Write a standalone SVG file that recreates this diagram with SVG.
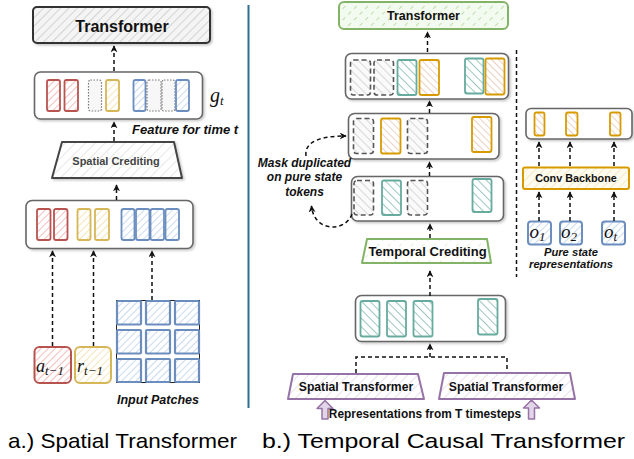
<svg xmlns="http://www.w3.org/2000/svg" width="634" height="459" viewBox="0 0 634 459">
  <defs>
    <style>
      .lbl { font-family: "Liberation Sans", Arial, sans-serif; font-weight: bold; fill: #111; }
      .note { font-family: "Liberation Sans", Arial, sans-serif; font-weight: bold; font-style: italic; fill: #111; }
      .math { font-family: "Liberation Serif", "DejaVu Serif", serif; font-style: italic; fill: #111; }
      .cap { font-family: "Liberation Sans", Arial, sans-serif; fill: #000; }
      .frame { fill: #fff; stroke: #666; stroke-width: 1.6; filter: url(#sh); }
      .conn { fill: none; stroke: #111; stroke-width: 1.5; stroke-dasharray: 4 3; }
      .arw { marker-end: url(#ah); }
      .tr { stroke: #b85450; stroke-width: 1.8; fill: url(#hRed); }
      .ty { stroke: #d6b656; stroke-width: 1.8; fill: url(#hYel); }
      .tb { stroke: #6c8ebf; stroke-width: 1.8; fill: url(#hBlue); }
      .tdot { stroke: #777; stroke-width: 1.2; stroke-dasharray: 1.5 1.5; fill: #f7f7f7; }
      .tteal { stroke: #67ab9f; stroke-width: 1.8; fill: url(#hTeal); }
      .tor { stroke: #d79b00; stroke-width: 1.8; fill: url(#hOr); }
      .tdash { stroke: #555; stroke-width: 1.6; stroke-dasharray: 5 3; fill: url(#hGrayB); }
    </style>
    <filter id="sh" x="-10%" y="-10%" width="125%" height="130%">
      <feDropShadow dx="1.5" dy="1.5" stdDeviation="1.2" flood-color="#000" flood-opacity="0.22"/>
    </filter>
    <marker id="ah" viewBox="0 0 10 10" refX="9" refY="5" markerWidth="7" markerHeight="7" markerUnits="userSpaceOnUse" orient="auto">
      <path d="M0,0 L10,5 L0,10 L3,5 z" fill="#111"/>
    </marker>
    <!-- hachure fills -->
    <pattern id="hGray" width="6" height="6" patternUnits="userSpaceOnUse" patternTransform="rotate(45)">
      <rect width="6" height="6" fill="#f4f4f4"/><line x1="0" y1="0" x2="0" y2="6" stroke="#bdbdbd" stroke-width="1.2"/>
    </pattern>
    <pattern id="hGrayL" width="7" height="7" patternUnits="userSpaceOnUse" patternTransform="rotate(45)">
      <rect width="7" height="7" fill="#fff"/><line x1="0" y1="0" x2="0" y2="7" stroke="#d6d6d6" stroke-width="1.2"/>
    </pattern>
    <pattern id="hGrayB" width="6" height="6" patternUnits="userSpaceOnUse" patternTransform="rotate(-45)">
      <rect width="6" height="6" fill="#fafafa"/><line x1="0" y1="0" x2="0" y2="6" stroke="#c4c4c4" stroke-width="1.3"/>
    </pattern>
    <pattern id="hRed" width="5" height="5" patternUnits="userSpaceOnUse" patternTransform="rotate(45)">
      <rect width="5" height="5" fill="#fff"/><line x1="0" y1="0" x2="0" y2="5" stroke="#eea4a1" stroke-width="1.4"/>
    </pattern>
    <pattern id="hYel" width="5" height="5" patternUnits="userSpaceOnUse" patternTransform="rotate(45)">
      <rect width="5" height="5" fill="#fff"/><line x1="0" y1="0" x2="0" y2="5" stroke="#efdc9c" stroke-width="1.4"/>
    </pattern>
    <pattern id="hBlue" width="5" height="5" patternUnits="userSpaceOnUse" patternTransform="rotate(45)">
      <rect width="5" height="5" fill="#fff"/><line x1="0" y1="0" x2="0" y2="5" stroke="#b3caec" stroke-width="1.4"/>
    </pattern>
    <pattern id="hTeal" width="6" height="6" patternUnits="userSpaceOnUse" patternTransform="rotate(-45)">
      <rect width="6" height="6" fill="#fff"/><line x1="0" y1="0" x2="0" y2="6" stroke="#7ab5aa" stroke-width="1.5"/>
    </pattern>
    <pattern id="hOr" width="5" height="5" patternUnits="userSpaceOnUse" patternTransform="rotate(-45)">
      <rect width="5" height="5" fill="#fff"/><line x1="0" y1="0" x2="0" y2="5" stroke="#e2b9a0" stroke-width="1.3"/>
    </pattern>
    <pattern id="hGreen" width="8" height="8" patternUnits="userSpaceOnUse" patternTransform="rotate(45)">
      <rect width="8" height="8" fill="#f3faef"/><line x1="0" y1="0" x2="0" y2="4" stroke="#a9d18e" stroke-width="1.4"/>
    </pattern>
    <pattern id="hGreenL" width="8" height="8" patternUnits="userSpaceOnUse" patternTransform="rotate(45)">
      <rect width="8" height="8" fill="#fff"/><line x1="0" y1="0" x2="0" y2="4" stroke="#cfe6c1" stroke-width="1.2"/>
    </pattern>
    <pattern id="hPurple" width="7" height="7" patternUnits="userSpaceOnUse" patternTransform="rotate(45)">
      <rect width="7" height="7" fill="#fff"/><line x1="0" y1="0" x2="0" y2="7" stroke="#ddd0e4" stroke-width="1.3"/>
    </pattern>
    <pattern id="hYelL" width="6" height="6" patternUnits="userSpaceOnUse" patternTransform="rotate(45)">
      <rect width="6" height="6" fill="#fffcf0"/><line x1="0" y1="0" x2="0" y2="6" stroke="#f3dfb0" stroke-width="1.3"/>
    </pattern>
  </defs>

  <rect width="634" height="459" fill="#fff"/>

  <!-- ===== a.) Spatial Transformer ===== -->
  <g id="left-transformer">
    <rect x="33" y="7" width="177" height="36" rx="4" fill="url(#hGray)" stroke="#333" stroke-width="2" filter="url(#sh)"/>
    <text class="lbl" x="122" y="32" font-size="16" text-anchor="middle">Transformer</text>
  </g>

  <g id="feature-row">
    <rect class="frame" x="34.5" y="72" width="168" height="47" rx="6"/>
    <rect class="tr" x="47" y="80" width="13" height="31" rx="2"/>
    <rect class="tr" x="64.5" y="80" width="13.5" height="31" rx="2"/>
    <rect class="tdot" x="88.5" y="80" width="13" height="31" rx="2"/>
    <rect class="ty" x="106" y="80" width="13" height="31" rx="2"/>
    <rect class="tb" x="133.5" y="80" width="12" height="31" rx="2"/>
    <rect class="tdot" x="147" y="80" width="14" height="31" rx="2"/>
    <rect class="tdot" x="162" y="80" width="13" height="31" rx="2"/>
    <rect class="tb" x="176" y="80" width="13" height="31" rx="2"/>
  </g>
  <g id="g-label">
    <text class="math" x="210" y="102" font-size="20">g<tspan font-size="13" dy="3">t</tspan></text>
  </g>
  <g id="feature-note">
    <text class="note" x="132" y="134" font-size="13">Feature for time t</text>
  </g>

  <g id="spatial-crediting">
    <path d="M62,142 L174,142 L182,178 L52,178 Z" fill="url(#hGrayL)" stroke="#444" stroke-width="2" stroke-linejoin="round" filter="url(#sh)"/>
    <text class="lbl" x="116" y="165" font-size="11" text-anchor="middle" style="fill:#444">Spatial Crediting</text>
  </g>

  <g id="token-row">
    <rect class="frame" x="26" y="200.5" width="167" height="48" rx="6"/>
    <rect class="tr" x="37" y="209" width="13.5" height="31" rx="2"/>
    <rect class="tr" x="54" y="209" width="13.5" height="31" rx="2"/>
    <rect class="ty" x="77.5" y="209" width="13" height="31" rx="2"/>
    <rect class="ty" x="95" y="209" width="14" height="31" rx="2"/>
    <rect class="tb" x="121.5" y="209" width="13" height="31" rx="2"/>
    <rect class="tb" x="136" y="209" width="13.5" height="31" rx="2"/>
    <rect class="tb" x="150.5" y="209" width="13.5" height="31" rx="2"/>
    <rect class="tb" x="165.5" y="209" width="13.5" height="31" rx="2"/>
  </g>

  <g id="action-input">
    <rect x="34.5" y="347" width="36.5" height="36" rx="5" fill="url(#hRed)" stroke="#b85450" stroke-width="2"/>
    <text class="math" x="36" y="372" font-size="18">a<tspan font-size="13" dy="3">t−1</tspan></text>
  </g>
  <g id="reward-input">
    <rect x="75" y="347" width="36" height="36" rx="5" fill="url(#hYel)" stroke="#d6b656" stroke-width="2"/>
    <text class="math" x="77" y="372" font-size="18">r<tspan font-size="13" dy="3">t−1</tspan></text>
  </g>

  <g id="input-patches">
    <rect x="116.5" y="300.5" width="83" height="82" fill="none" stroke="#222" stroke-width="1"/>
    <g fill="url(#hBlue)" stroke="#6c8ebf" stroke-width="2.2">
      <rect x="117" y="301" width="24" height="23.5" rx="1"/>
      <rect x="146" y="301" width="24" height="23.5" rx="1"/>
      <rect x="175" y="301" width="24" height="23.5" rx="1"/>
      <rect x="117" y="330" width="24" height="23.5" rx="1"/>
      <rect x="146" y="330" width="24" height="23.5" rx="1"/>
      <rect x="175" y="330" width="24" height="23.5" rx="1"/>
      <rect x="117" y="359" width="24" height="23" rx="1"/>
      <rect x="146" y="359" width="24" height="23" rx="1"/>
      <rect x="175" y="359" width="24" height="23" rx="1"/>
    </g>
    <text class="note" x="158" y="404" font-size="12.5" text-anchor="middle">Input Patches</text>
  </g>

  <g id="left-connectors">
    <path class="conn arw" d="M114,71 V46"/>
    <path class="conn arw" d="M114,141 V122"/>
    <path class="conn arw" d="M116.5,200 V185"/>
    <path class="conn arw" d="M52.5,346 V251"/>
    <path class="conn arw" d="M93.5,346 V251"/>
    <path class="conn arw" d="M152,300 V251"/>
  </g>

  <text class="cap" x="8" y="448" font-size="21" textLength="229" lengthAdjust="spacingAndGlyphs">a.) Spatial Transformer</text>

  <!-- panel divider -->
  <line x1="248.5" y1="5" x2="248.5" y2="408" stroke="#2f6f8f" stroke-width="2"/>

  <!-- ===== b.) Temporal Causal Transformer ===== -->
  <g id="right-transformer">
    <rect x="339" y="2" width="169" height="27" rx="5" fill="url(#hGreen)" stroke="#82b366" stroke-width="2"/>
    <text class="lbl" x="423.5" y="20" font-size="12.5" text-anchor="middle">Transformer</text>
  </g>

  <g id="row-output">
    <rect class="frame" x="345.5" y="53.5" width="163" height="45.5" rx="6"/>
    <rect class="tdash" x="350.5" y="60" width="20" height="35" rx="3"/>
    <rect class="tdash" x="374" y="60" width="19.5" height="35" rx="3"/>
    <rect class="tteal" x="397.5" y="60" width="19" height="35" rx="2"/>
    <rect class="tor" x="419.5" y="60" width="19.5" height="35" rx="2"/>
    <rect class="tteal" x="465" y="58.5" width="18.5" height="35" rx="2"/>
    <rect class="tor" x="485.5" y="58.5" width="19" height="36" rx="2"/>
  </g>

  <g id="row-rewards">
    <rect class="frame" x="348.5" y="113.5" width="150.5" height="45.5" rx="6"/>
    <rect class="tdash" x="353.5" y="118.5" width="20" height="35" rx="3"/>
    <rect class="tor" x="381" y="118.5" width="19.5" height="35" rx="2"/>
    <rect class="tdash" x="407.5" y="118.5" width="20" height="35" rx="3"/>
    <rect class="tor" x="472" y="117" width="19.5" height="35" rx="2"/>
  </g>

  <g id="row-credited">
    <rect class="frame" x="351.5" y="176.5" width="152" height="44.5" rx="6"/>
    <rect class="tdash" x="354" y="180.5" width="19.5" height="34.5" rx="3"/>
    <rect class="tteal" x="382" y="180.5" width="19" height="34.5" rx="2"/>
    <rect class="tdash" x="407.5" y="180.5" width="20" height="34.5" rx="3"/>
    <rect class="tteal" x="472.5" y="179" width="19" height="33" rx="2"/>
  </g>

  <g id="mask-note">
    <text class="note" x="304.5" y="166.5" font-size="12" text-anchor="middle">Mask duplicated</text>
    <text class="note" x="304.5" y="181" font-size="12" text-anchor="middle">on pure state</text>
    <text class="note" x="304.5" y="195.5" font-size="12" text-anchor="middle">tokens</text>
  </g>

  <g id="temporal-crediting">
    <path d="M367,239 L487,239 L491,263 L362,263 Z" fill="url(#hGreenL)" stroke="#82b366" stroke-width="2" stroke-linejoin="round"/>
    <text class="lbl" x="427.5" y="256" font-size="13" text-anchor="middle">Temporal Crediting</text>
  </g>

  <g id="row-spatial">
    <rect class="frame" x="355.5" y="295.5" width="150" height="46" rx="6"/>
    <rect class="tteal" x="360.5" y="301" width="19" height="35.5" rx="2"/>
    <rect class="tteal" x="387" y="301" width="19" height="35.5" rx="2"/>
    <rect class="tteal" x="413.5" y="301" width="19" height="35.5" rx="2"/>
    <rect class="tteal" x="478" y="299" width="19.5" height="35.5" rx="2"/>
  </g>

  <g id="spatial-transformer-1">
    <path d="M293,374 L418,374 L424,399 L288,399 Z" fill="url(#hPurple)" stroke="#9673a6" stroke-width="2" stroke-linejoin="round"/>
    <text class="lbl" x="356" y="391" font-size="12.2" text-anchor="middle">Spatial Transformer</text>
  </g>
  <g id="spatial-transformer-2">
    <path d="M444,373 L570,373 L575,399 L439,399 Z" fill="url(#hPurple)" stroke="#9673a6" stroke-width="2" stroke-linejoin="round"/>
    <text class="lbl" x="506" y="391" font-size="12.2" text-anchor="middle">Spatial Transformer</text>
  </g>

  <g id="timestep-inputs">
    <path d="M322,419 L322,408.5 L317,408.5 L325,400.5 L333,408.5 L328,408.5 L328,419 Z" fill="#e1d5e7" stroke="#9673a6" stroke-width="1.5" stroke-linejoin="round"/>
    <path d="M528.5,419 L528.5,408 L523.5,408 L531.5,400 L539.5,408 L534.5,408 L534.5,419 Z" fill="#e1d5e7" stroke="#9673a6" stroke-width="1.5" stroke-linejoin="round"/>
    <text class="lbl" x="425" y="417.5" font-size="11.9" text-anchor="middle">Representations from T timesteps</text>
  </g>

  <!-- pure state branch -->
  <g id="state-tokens">
    <rect class="frame" x="526" y="108.5" width="106" height="30.5" rx="5"/>
    <rect class="tor" x="534.5" y="112.5" width="10" height="23" rx="2"/>
    <rect class="tor" x="566" y="112.5" width="11.5" height="23" rx="2"/>
    <rect class="tor" x="610" y="112.5" width="10.5" height="23" rx="2"/>
  </g>
  <g id="conv-backbone">
    <rect x="523" y="167.5" width="106" height="21.5" rx="2" fill="url(#hYelL)" stroke="#d79b00" stroke-width="2"/>
    <text class="lbl" x="576" y="182" font-size="10.8" text-anchor="middle">Conv Backbone</text>
  </g>
  <g id="obs-1">
    <rect x="528" y="221.5" width="23" height="23" rx="3" fill="url(#hBlue)" stroke="#6c8ebf" stroke-width="2"/>
    <text class="math" x="529.5" y="238" font-size="19">o<tspan font-size="13" dy="3">1</tspan></text>
  </g>
  <g id="obs-2">
    <rect x="560" y="221.5" width="22" height="23" rx="3" fill="url(#hBlue)" stroke="#6c8ebf" stroke-width="2"/>
    <text class="math" x="561" y="238" font-size="19">o<tspan font-size="13" dy="3">2</tspan></text>
  </g>
  <g id="obs-t">
    <rect x="602" y="221.5" width="23" height="23" rx="3" fill="url(#hBlue)" stroke="#6c8ebf" stroke-width="2"/>
    <text class="math" x="604" y="238" font-size="19">o<tspan font-size="13" dy="3">t</tspan></text>
  </g>
  <g id="state-note">
    <text class="note" x="571" y="256" font-size="11.2" text-anchor="middle">Pure state</text>
    <text class="note" x="571" y="268" font-size="11.2" text-anchor="middle">representations</text>
  </g>

  <g id="right-connectors">
    <path class="conn arw" d="M427.5,52 V32"/>
    <path class="conn arw" d="M429.5,113 V101"/>
    <path class="conn arw" d="M429.5,176 V162"/>
    <path class="conn arw" d="M430,238 V224"/>
    <path class="conn arw" d="M430,296 V271"/>
    <path class="conn" d="M356,373 V357 H507 V372"/>
    <path class="conn arw" d="M430,357 V344"/>
    <path class="conn arw" d="M306,156 C304,141 322,136 346,136"/>
    <path class="conn arw" d="M352,214 C346,232 314,233 311.5,206"/>
    <path class="conn arw" d="M539,166 V142"/>
    <path class="conn arw" d="M570,166 V142"/>
    <path class="conn arw" d="M614,166 V142"/>
    <path class="conn arw" d="M539,221 V192"/>
    <path class="conn arw" d="M570,221 V192"/>
    <path class="conn arw" d="M614,221 V192"/>
    <path class="conn" d="M516.5,50 V277"/>
  </g>

  <text class="cap" x="262" y="448" font-size="21" textLength="363" lengthAdjust="spacingAndGlyphs">b.) Temporal Causal Transformer</text>
</svg>
